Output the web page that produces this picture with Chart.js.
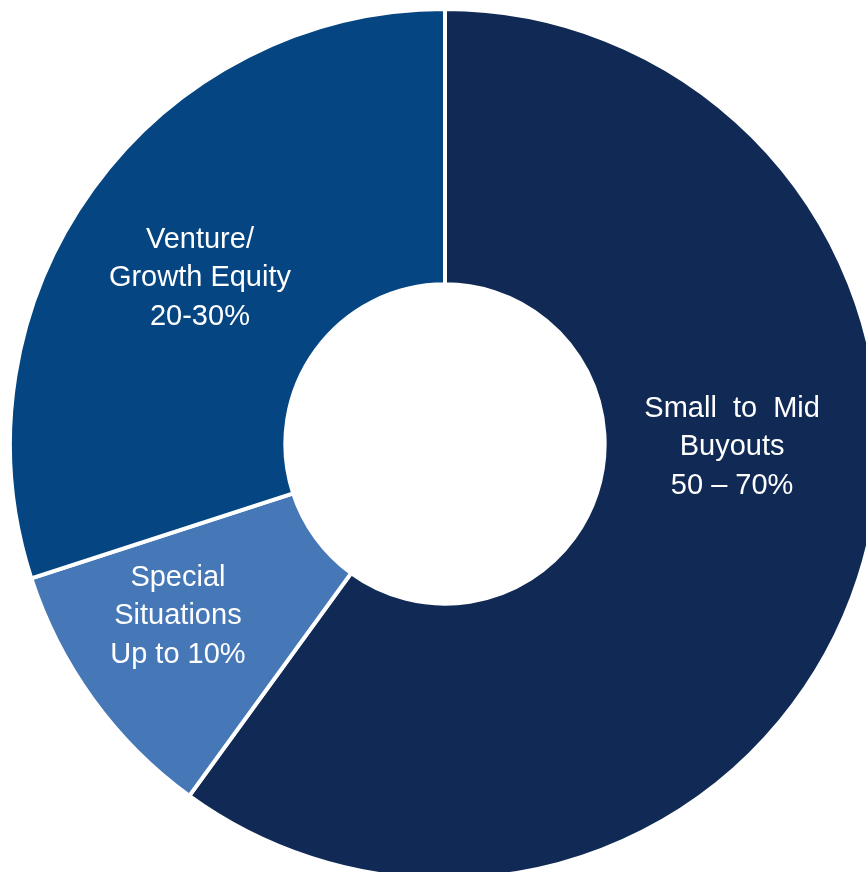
<!DOCTYPE html>
<html>
<head>
<meta charset="utf-8">
<script src="https://cdn.jsdelivr.net/npm/chart.js@4"></script>
<style>
    html, body {
        margin: 0;
        padding: 0;
        background: #ffffff;
        overflow: hidden;
        width: 866px;
        height: 872px;
    }
    #chart-wrap {
        position: absolute;
        left: 8px;
        top: 7px;
        width: 874px;
        height: 874px;
    }
</style>
</head>
<body>
<div id="chart-wrap">
    <canvas id="allocation-chart" width="874" height="874"></canvas>
</div>
<script>
// Target allocation (midpoint share of each slice)
const categories = ['Small to Mid Buyouts', 'Special Situations', 'Venture/Growth Equity'];
const shares = [60, 10, 30];
const rangeLabels = ['50 \u2013 70%', 'Up to 10%', '20-30%'];
const labelLines = [
    ['Small to Mid', 'Buyouts'],
    ['Special', 'Situations'],
    ['Venture/', 'Growth Equity']
];
const sliceColors = ['#112a55', '#4677b7', '#044582'];

// Text placement inside each slice: angle shift (deg) and radius fraction across the ring
const labelPlacement = [
    { shift: -17.4, depth: 0.463, wordSpacing: '8px' },
    { shift: 3.2, depth: 0.574, wordSpacing: '0px' },
    { shift: -1.9, depth: 0.495, wordSpacing: '0px' }
];

const sliceLabels = {
    id: 'sliceLabels',
    afterDatasetsDraw(chart) {
        const ctx = chart.ctx;
        const arcs = chart.getDatasetMeta(0).data;
        ctx.save();
        ctx.fillStyle = '#ffffff';
        ctx.font = '29px "Liberation Sans", Arial, sans-serif';
        ctx.textAlign = 'center';
        ctx.textBaseline = 'middle';
        arcs.forEach((arc, i) => {
            const p = arc.getProps(['x', 'y', 'startAngle', 'endAngle', 'innerRadius', 'outerRadius'], true);
            const place = labelPlacement[i];
            const mid = (p.startAngle + p.endAngle) / 2 + place.shift * Math.PI / 180;
            const r = p.innerRadius + (p.outerRadius - p.innerRadius) * place.depth;
            const cx = p.x + Math.cos(mid) * r;
            const cy = p.y + Math.sin(mid) * r;
            const lines = labelLines[i].concat([rangeLabels[i]]);
            const lineHeight = 38.5;
            lines.forEach((line, j) => {
                ctx.wordSpacing = j === 0 ? place.wordSpacing : '0px';
                ctx.fillText(line, cx, cy + (j - (lines.length - 1) / 2) * lineHeight);
            });
        });
        ctx.restore();
    }
};

function setupChart() {
    const ctx = document.getElementById('allocation-chart').getContext('2d');
    new Chart(ctx, {
        type: 'doughnut',
        data: {
            labels: categories,
            datasets: [{
                data: shares,
                backgroundColor: sliceColors,
                borderColor: '#ffffff',
                borderWidth: 4
            }]
        },
        options: {
            responsive: false,
            animation: false,
            cutout: '36.7%',
            layout: { padding: 0 },
            plugins: {
                legend: { display: false },
                tooltip: { enabled: false }
            }
        },
        plugins: [sliceLabels]
    });
}

document.addEventListener('DOMContentLoaded', setupChart);
</script>
</body>
</html>
